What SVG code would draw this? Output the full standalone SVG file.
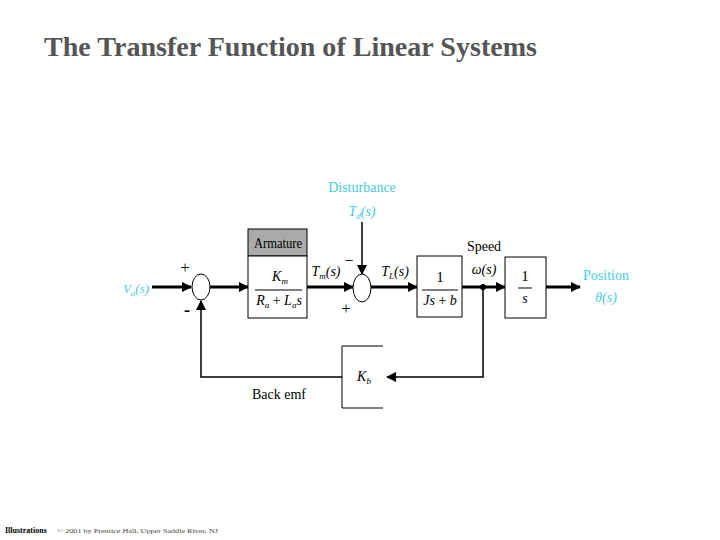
<svg xmlns="http://www.w3.org/2000/svg" width="720" height="540" viewBox="0 0 720 540">
<defs>
<marker id="ah" markerWidth="10" markerHeight="10" refX="9" refY="5" orient="auto" markerUnits="userSpaceOnUse">
<path d="M0,0 L10,5 L0,10 Z" fill="#000"/>
</marker>
<style>
text{font-family:"Liberation Serif","Times New Roman",serif;fill:#000}
.i{font-style:italic}
.c{fill:#44ccdd}
.ln{stroke:#000;stroke-width:3;fill:none}
.thin{stroke:#000;stroke-width:1.5;fill:none}
.box{stroke:#000;stroke-width:1;fill:#fff}
.sum{stroke:#000;stroke-width:1;fill:#fff}
</style>
</defs>
<rect width="720" height="540" fill="#fff"/>
<g id="title">
<text x="44" y="56" font-size="28" font-weight="bold" style="fill:#555" textLength="493" lengthAdjust="spacingAndGlyphs">The Transfer Function of Linear Systems</text>
</g>

<g id="connectors">
<line x1="152" y1="287" x2="191" y2="287" class="ln" marker-end="url(#ah)"/>
<line x1="210" y1="287" x2="248" y2="287" class="ln" marker-end="url(#ah)"/>
<line x1="307" y1="287" x2="353" y2="287" class="ln" marker-end="url(#ah)"/>
<line x1="362" y1="222" x2="362" y2="274" class="thin" marker-end="url(#ah)"/>
<line x1="371" y1="287" x2="417" y2="287" class="ln" marker-end="url(#ah)"/>
<line x1="462" y1="287" x2="505" y2="287" class="ln" marker-end="url(#ah)"/>
<line x1="546" y1="287" x2="580" y2="287" class="ln" marker-end="url(#ah)"/>
<polyline points="483,287 483,377 387,377" class="thin" marker-end="url(#ah)"/>
<polyline points="342,377 201,377 201,301" class="thin" marker-end="url(#ah)"/>
<circle cx="483" cy="287" r="3" fill="#000"/>
</g>

<g id="input">
<text x="136" y="293" class="i c" font-size="13" text-anchor="middle">V<tspan font-size="9" dy="3">a</tspan><tspan dy="-3">(s)</tspan></text>
</g>

<g id="sum1">
<ellipse cx="201" cy="287" rx="9" ry="13" class="sum"/>
<text x="185" y="273" font-size="16" text-anchor="middle">+</text>
<text x="187" y="316" font-size="18" font-weight="bold" text-anchor="middle">-</text>
</g>

<g id="armature">
<rect x="248" y="229" width="59" height="27" fill="#aaa" stroke="#000" stroke-width="1"/>
<rect x="248" y="256" width="59" height="62" class="box"/>
<text x="278" y="248" font-size="14" text-anchor="middle" textLength="48" lengthAdjust="spacingAndGlyphs">Armature</text>
<text x="280" y="281" class="i" font-size="14" text-anchor="middle">K<tspan font-size="9" dy="3">m</tspan></text>
<line x1="255" y1="290" x2="302" y2="290" stroke="#000" stroke-width="1"/>
<text x="279" y="305" class="i" font-size="14" text-anchor="middle">R<tspan font-size="9" dy="3">a</tspan><tspan dy="-3" font-style="normal"> + </tspan>L<tspan font-size="9" dy="3">a</tspan><tspan dy="-3">s</tspan></text>
</g>

<g id="tm-label">
<text x="326" y="276" class="i" font-size="14" text-anchor="middle">T<tspan font-size="9" dy="3">m</tspan><tspan dy="-3">(s)</tspan></text>
</g>

<g id="disturbance">
<text x="362" y="192" class="c" font-size="14" text-anchor="middle">Disturbance</text>
<text x="362" y="216" class="i c" font-size="14" text-anchor="middle">T<tspan font-size="9" dy="3">d</tspan><tspan dy="-3">(s)</tspan></text>
</g>

<g id="sum2">
<ellipse cx="362" cy="288" rx="9" ry="14" class="sum"/>
<text x="349" y="266" font-size="16" text-anchor="middle">−</text>
<text x="346" y="314" font-size="16" text-anchor="middle">+</text>
</g>

<g id="tl-label">
<text x="395" y="276" class="i" font-size="14" text-anchor="middle">T<tspan font-size="9" dy="3">L</tspan><tspan dy="-3">(s)</tspan></text>
</g>

<g id="load">
<rect x="417" y="256" width="45" height="61" class="box"/>
<text x="440" y="282" font-size="15" text-anchor="middle">1</text>
<line x1="422" y1="290" x2="458" y2="290" stroke="#000" stroke-width="1"/>
<text x="440" y="305" class="i" font-size="14" text-anchor="middle">Js<tspan font-style="normal"> + </tspan>b</text>
</g>

<g id="speed">
<text x="484" y="251" font-size="14" text-anchor="middle">Speed</text>
<text x="484" y="274" class="i" font-size="14" text-anchor="middle">ω(s)</text>
</g>

<g id="integrator">
<rect x="505" y="257" width="41" height="61" class="box"/>
<text x="525" y="281" font-size="15" text-anchor="middle">1</text>
<line x1="518" y1="288" x2="532" y2="288" stroke="#000" stroke-width="1"/>
<text x="525" y="303" class="i" font-size="14" text-anchor="middle">s</text>
</g>

<g id="output">
<text x="606" y="280" class="c" font-size="14" text-anchor="middle">Position</text>
<text x="606" y="302" class="i c" font-size="14" text-anchor="middle">θ(s)</text>
</g>

<g id="kb">
<path d="M383,346 H342 V408 H383" fill="none" stroke="#000" stroke-width="1"/>
<text x="364" y="381" class="i" font-size="14" text-anchor="middle">K<tspan font-size="9" dy="3">b</tspan></text>
</g>

<g id="backemf">
<text x="279" y="399" font-size="14" text-anchor="middle">Back emf</text>
</g>

<g id="footer">
<text x="5" y="533" font-size="8" font-weight="bold">Illustrations</text>
<text x="57" y="533" font-size="7" style="fill:#444" textLength="161" lengthAdjust="spacingAndGlyphs">© 2001 by Prentice Hall, Upper Saddle River, NJ</text>
</g>
</svg>
